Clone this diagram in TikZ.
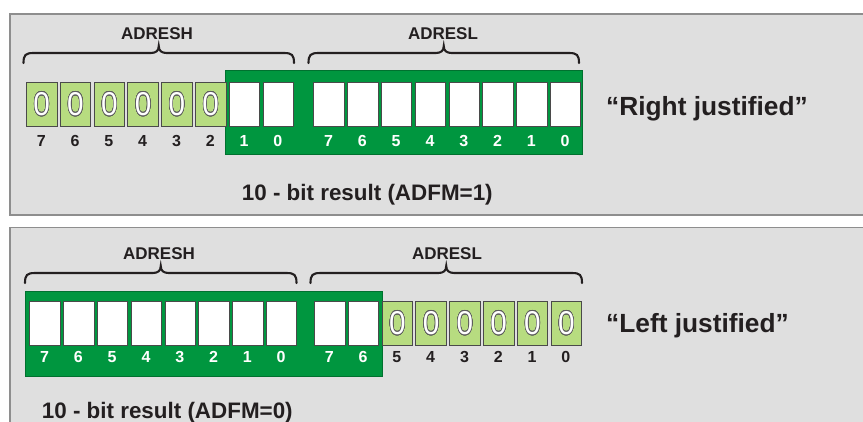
\documentclass[tikz,border=0pt]{standalone}
\usepackage{fontspec}
\setmainfont{Liberation Sans}
\usepackage[copies]{contour}
\contourlength{0.6pt}
\contournumber{24}
\definecolor{panelfill}{HTML}{DFDFDF}
\definecolor{panelline}{HTML}{8E8E8E}
\definecolor{reggreen}{HTML}{00963F}
\definecolor{zerogreen}{HTML}{B7DC80}
\definecolor{cellline}{HTML}{4A4A4A}
\definecolor{ink}{HTML}{231F20}

% outlined zero digit (white glyph with a dark contour)
\newcommand{\outlinezero}{\contour{cellline!90}{\textcolor{white}{0}}}

% curly brace over a register: left x, right x, y of the straight part
\newcommand{\regbrace}[3]{%
  \draw[braceline] (#1,#3+10) .. controls (#1,#3+2) and (#1+2,#3) .. (#1+10,#3)
    -- ({(#1+#2)/2-8},#3) .. controls ({(#1+#2)/2-3},#3) and ({(#1+#2)/2},#3-2) .. ({(#1+#2)/2},#3-7)
    .. controls ({(#1+#2)/2},#3-2) and ({(#1+#2)/2+3},#3) .. ({(#1+#2)/2+8},#3)
    -- (#2-10,#3) .. controls (#2-2,#3) and (#2,#3+2) .. (#2,#3+10);}

\begin{document}
\begin{tikzpicture}[x=1pt,y=-1pt,
  panel/.style={fill=panelfill,draw=panelline,line width=1.5pt},
  greenbox/.style={fill=reggreen,draw=reggreen!75!black,line width=0.8pt},
  zerocell/.style={rectangle,anchor=north west,inner sep=0pt,minimum width=30.5pt,minimum height=44pt,
    fill=zerogreen,draw=cellline,line width=0.9pt,font=\fontsize{33}{33}\selectfont},
  datacell/.style={rectangle,anchor=north west,inner sep=0pt,minimum width=30.5pt,minimum height=44pt,
    fill=white,draw=cellline,line width=0.9pt},
  bitnum/.style={anchor=base,inner sep=0pt,font=\fontsize{16}{16}\bfseries\selectfont,text=ink},
  bitnumw/.style={bitnum,text=white},
  reglabel/.style={anchor=base,inner sep=0pt,font=\fontsize{17}{17}\bfseries\selectfont,text=ink},
  caption/.style={anchor=base west,inner sep=0pt,font=\fontsize{22.4}{24}\bfseries\selectfont,text=ink},
  mode/.style={anchor=base west,inner sep=0pt,font=\fontsize{26.3}{28}\bfseries\selectfont,text=ink},
  braceline/.style={draw=ink,line width=2.1pt,line cap=round}]
\useasboundingbox (0,0) rectangle (863,421);
\clip (0,0) rectangle (863,421);
\fill[white] (0,0) rectangle (863,421);

% ---------------- right justified (ADFM=1) ----------------
\draw[panel] (10,14) rectangle (880,215);
\node[reglabel] (rjH) at (157,39.5) {ADRESH};
\node[reglabel] (rjL) at (443,39.5) {ADRESL};
\regbrace{23.5}{294}{53}
\regbrace{308.5}{579}{53}
\draw[greenbox] (225,70) rectangle (582,154.5);
\foreach \i/\b in {0/7,1/6,2/5,3/4,4/3,5/2}{
  \node[zerocell] (rjh\b) at ({26+33.8*\i},82) {\scalebox{0.9}[1]{\outlinezero}};
  \node[bitnum] (rjhn\b) at ({26+15.25+33.8*\i},146) {\b};
}
\foreach \i/\b in {6/1,7/0}{
  \node[datacell] (rjh\b) at ({26+33.8*\i},82) {};
  \node[bitnumw] (rjhn\b) at ({26+15.25+33.8*\i},146) {\b};
}
\foreach \i/\b in {0/7,1/6,2/5,3/4,4/3,5/2,6/1,7/0}{
  \node[datacell] (rjl\b) at ({313.3+33.8*\i},82) {};
  \node[bitnumw] (rjln\b) at ({313.3+15.25+33.8*\i},146) {\b};
}
\node[caption] (rjcap) at (241.7,200) {10 - bit result (ADFM=1)};
\node[mode] (rjmode) at (606,115) {“Right justified”};

% ---------------- left justified (ADFM=0) ----------------
\draw[panel] (10,227.5) rectangle (880,440);
\node[reglabel] (ljH) at (159,259.3) {ADRESH};
\node[reglabel] (ljL) at (447,259.3) {ADRESL};
\regbrace{25}{296.5}{273}
\regbrace{310.5}{582}{273}
\draw[greenbox] (25,291) rectangle (382.5,376);
\foreach \i/\b in {0/7,1/6,2/5,3/4,4/3,5/2,6/1,7/0}{
  \node[datacell] (ljh\b) at ({29.3+33.8*\i},301) {};
  \node[bitnumw] (ljhn\b) at ({29.3+15.25+33.8*\i},362.7) {\b};
}
\foreach \i/\b in {0/7,1/6}{
  \node[datacell] (ljl\b) at ({314+33.8*\i},301) {};
  \node[bitnumw] (ljln\b) at ({314+15.25+33.8*\i},362.7) {\b};
}
\foreach \i/\b in {2/5,3/4,4/3,5/2,6/1,7/0}{
  \node[zerocell] (ljl\b) at ({314+33.8*\i},301) {\scalebox{0.9}[1]{\outlinezero}};
  \node[bitnum] (ljln\b) at ({314+15.25+33.8*\i},362.7) {\b};
}
\node[caption] (ljcap) at (41.7,418) {10 - bit result (ADFM=0)};
\node[mode] (ljmode) at (606,332.7) {“Left justified”};
\end{tikzpicture}
\end{document}
